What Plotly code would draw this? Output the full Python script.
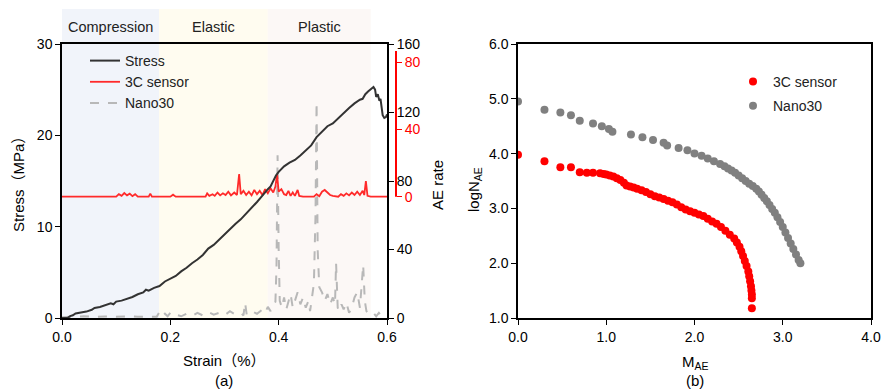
import plotly.graph_objects as go

W, H = 882, 391

# ---------------- Data: panel (a) ----------------
stress_strain = [0.000, 0.010, 0.015, 0.020, 0.025, 0.035, 0.045, 0.055, 0.060, 0.070, 0.080, 0.090, 0.095,
                 0.100, 0.110, 0.120, 0.130, 0.140, 0.150, 0.155, 0.160, 0.170, 0.180, 0.190, 0.200, 0.210,
                 0.220, 0.230, 0.240, 0.250, 0.260, 0.270, 0.280, 0.290, 0.300, 0.310, 0.320, 0.330, 0.340,
                 0.350, 0.360, 0.370, 0.375, 0.380, 0.385, 0.390, 0.395, 0.400, 0.410, 0.420, 0.430, 0.440,
                 0.450, 0.460, 0.470, 0.480, 0.490, 0.500, 0.510, 0.520, 0.530, 0.540, 0.545, 0.550, 0.555,
                 0.560, 0.565, 0.570, 0.575, 0.578, 0.580, 0.583, 0.586, 0.588, 0.590, 0.592, 0.595, 0.598, 0.600]
stress_mpa = [0.0, 0.0, 0.2, 0.3, 0.5, 0.6, 0.7, 0.9, 1.1, 1.2, 1.4, 1.6, 1.5,
              1.8, 1.9, 2.1, 2.3, 2.6, 2.8, 3.1, 3.0, 3.3, 3.5, 4.0, 4.3, 4.6,
              5.1, 5.5, 6.0, 6.4, 6.9, 7.6, 8.0, 8.6, 9.2, 9.7, 10.3, 10.8, 11.4,
              12.0, 12.7, 13.4, 13.8, 14.1, 14.4, 15.0, 15.6, 16.0, 16.6, 17.0, 17.3, 17.8,
              18.3, 18.9, 19.8, 20.4, 21.0, 21.3, 21.9, 22.5, 23.0, 23.5, 23.7, 23.9, 24.0,
              24.5, 24.8, 25.1, 25.3, 25.0, 24.2, 24.5, 23.8, 24.0, 23.3, 22.2, 21.9, 22.0, 22.3]

c3_strain = [0.000, 0.100, 0.105, 0.110, 0.115, 0.120, 0.125, 0.130, 0.135, 0.140, 0.160, 0.163, 0.166,
             0.200, 0.205, 0.210, 0.265, 0.268, 0.272, 0.278, 0.282, 0.287, 0.292, 0.297, 0.302, 0.307,
             0.312, 0.318, 0.323, 0.327, 0.330, 0.335, 0.340, 0.345, 0.350, 0.355, 0.360, 0.365, 0.370,
             0.375, 0.380, 0.385, 0.390, 0.394, 0.397, 0.400, 0.405, 0.410, 0.414, 0.418, 0.422, 0.426,
             0.430, 0.435, 0.438, 0.445, 0.465, 0.470, 0.475, 0.480, 0.485, 0.490, 0.495, 0.500, 0.510,
             0.515, 0.520, 0.525, 0.530, 0.535, 0.540, 0.545, 0.550, 0.555, 0.558, 0.561, 0.564, 0.570, 0.600]
c3_rate = [0, 0, 1.5, 0.5, 2.2, 0.8, 1.8, 0.3, 1.5, 0, 0, 1.8, 0,
           0, 1.2, 0, 0, 2.0, 0.5, 1.5, 0.5, 2.5, 0.8, 2.0, 1.0, 3.0,
           0.8, 2.5, 1.0, 13.5, 1.5, 3.5, 1.0, 3.0, 0.8, 4.0, 1.5, 3.5, 1.0,
           4.5, 2.0, 5.0, 2.5, 6.0, 13.5, 3.0, 4.5, 1.5, 1.0, 3.5, 0.5, 2.5,
           0.5, 4.0, 0.5, 0, 0, 1.5, 0.3, 3.0, 4.0, 2.5, 1.0, 0.5, 0,
           1.5, 0.5, 2.0, 0.8, 2.5, 1.0, 3.0, 1.0, 3.5, 1.0, 9.3, 0.5, 0, 0]

nano_strain = [0.000, 0.020, 0.040, 0.060, 0.080, 0.100, 0.120, 0.140, 0.160, 0.175, 0.180, 0.185, 0.190,
               0.195, 0.200, 0.205, 0.210, 0.220, 0.230, 0.240, 0.250, 0.260, 0.270, 0.280, 0.290, 0.300,
               0.310, 0.320, 0.330, 0.335, 0.338, 0.341, 0.350, 0.360, 0.370, 0.375, 0.380, 0.385, 0.390,
               0.394, 0.396, 0.398, 0.400, 0.402, 0.406, 0.410, 0.414, 0.418, 0.422, 0.426, 0.430, 0.435,
               0.440, 0.445, 0.450, 0.455, 0.458, 0.462, 0.465, 0.468, 0.470, 0.472, 0.475, 0.480, 0.485,
               0.490, 0.495, 0.500, 0.504, 0.506, 0.509, 0.512, 0.516, 0.520, 0.525, 0.530, 0.535, 0.540,
               0.545, 0.550, 0.553, 0.556, 0.559, 0.562, 0.568, 0.575, 0.580, 0.585, 0.590, 0.600]
nano_rate = [0.5, 0.8, 1.0, 0.6, 0.9, 0.7, 1.0, 0.8, 1.0, 0.8, 3.5, 1.0, 2.5,
             1.0, 3.0, 1.5, 2.0, 1.0, 2.5, 1.2, 3.0, 1.5, 3.5, 2.0, 3.0, 1.5,
             4.0, 2.0, 3.0, 1.5, 9.0, 2.0, 4.0, 2.5, 5.0, 3.0, 6.5, 4.0, 7.5,
             9.5, 30, 95, 40, 10, 6, 12, 5, 9, 14, 6, 10, 15,
             8, 12, 6, 10, 4, 14, 20, 60, 126, 40, 18, 15, 10,
             14, 8, 12, 8, 32, 6, 4, 8, 5, 9, 3, 6, 12,
             15, 6, 20, 31, 10, 4, 2, 3, 1, 3, 1, 1]

stages = ["Compression", "Elastic", "Plastic"]
stage_bounds = [(0.0, 0.179), (0.179, 0.380), (0.380, 0.570)]
stage_colors = ["#f1f4fa", "#fffcf0", "#fcf8f6"]

# ---------------- Data: panel (b) ----------------
c3_m = [0.00, 0.30, 0.48, 0.60, 0.70, 0.78, 0.85, 0.93, 0.97, 1.00, 1.04, 1.08, 1.12, 1.16, 1.20, 1.23,
        1.27, 1.31, 1.35, 1.40, 1.45, 1.50, 1.55, 1.60, 1.65, 1.70, 1.75, 1.80, 1.85, 1.90, 1.95, 2.00,
        2.05, 2.10, 2.15, 2.20, 2.25, 2.30, 2.35, 2.40, 2.45, 2.48, 2.51, 2.53, 2.55, 2.57, 2.59, 2.61,
        2.62, 2.63, 2.64, 2.645, 2.65, 2.65, 2.65]
c3_logn = [3.98, 3.86, 3.75, 3.75, 3.66, 3.65, 3.65, 3.64, 3.63, 3.62, 3.60, 3.58, 3.55, 3.52, 3.47, 3.42,
           3.40, 3.38, 3.36, 3.33, 3.30, 3.26, 3.22, 3.20, 3.17, 3.14, 3.11, 3.07, 3.02, 2.98, 2.95, 2.92,
           2.89, 2.86, 2.81, 2.76, 2.72, 2.66, 2.59, 2.52, 2.45, 2.38, 2.30, 2.22, 2.13, 2.04, 1.95, 1.85,
           1.76, 1.67, 1.58, 1.50, 1.43, 1.36, 1.18]

nano_m = [0.00, 0.30, 0.48, 0.60, 0.70, 0.85, 0.95, 1.03, 1.07, 1.28, 1.41, 1.53, 1.65, 1.69, 1.82, 1.92,
          2.00, 2.08, 2.15, 2.22, 2.29, 2.34, 2.38, 2.42, 2.46, 2.50, 2.54, 2.58, 2.62, 2.66, 2.70, 2.73,
          2.76, 2.79, 2.82, 2.85, 2.88, 2.91, 2.94, 2.97, 3.00, 3.03, 3.06, 3.09, 3.12, 3.15, 3.18, 3.20]
nano_logn = [4.95, 4.80, 4.75, 4.70, 4.60, 4.55, 4.50, 4.45, 4.40, 4.35, 4.30, 4.25, 4.20, 4.15, 4.10, 4.06,
             4.00, 3.96, 3.91, 3.86, 3.81, 3.77, 3.73, 3.69, 3.65, 3.60, 3.55, 3.50, 3.45, 3.41, 3.36, 3.31,
             3.25, 3.19, 3.13, 3.06, 2.99, 2.92, 2.84, 2.75, 2.66, 2.56, 2.46, 2.36, 2.26, 2.16, 2.06, 2.00]

# ---------------- Helpers ----------------
def px(x):
    return x / W

def py(y):
    return 1 - y / H

FONT = "Liberation Sans, Arial, Noto Sans CJK SC, sans-serif"
ydom = [py(318), py(44)]

fig = go.Figure()

# Panel (a) traces (main y = AE rate gray, drawn first/bottom)
fig.add_trace(go.Scatter(x=nano_strain, y=nano_rate, mode="lines", name="Nano30",
                         line=dict(color="#b8b8b8", width=2, dash="dash"),
                         xaxis="x", yaxis="y", legend="legend", legendrank=3))
fig.add_trace(go.Scatter(x=c3_strain, y=c3_rate, mode="lines", name="3C sensor",
                         line=dict(color="#ff2a2a", width=1.8),
                         xaxis="x", yaxis="y2", legend="legend", legendrank=2))
fig.add_trace(go.Scatter(x=stress_strain, y=stress_mpa, mode="lines", name="Stress",
                         line=dict(color="#333333", width=2),
                         xaxis="x", yaxis="y3", legend="legend", legendrank=1))

# Panel (b) traces
fig.add_trace(go.Scatter(x=c3_m, y=c3_logn, mode="markers", name="3C sensor",
                         marker=dict(color="#ff0000", size=8), legendgroup="b1",
                         xaxis="x2", yaxis="y4", legend="legend2"))
fig.add_trace(go.Scatter(x=nano_m, y=nano_logn, mode="markers", name="Nano30",
                         marker=dict(color="#808080", size=8), legendgroup="b2",
                         xaxis="x2", yaxis="y4", legend="legend2"))

tickfont = dict(family=FONT, size=14, color="#000")

shapes = []
annotations = []
for name, (a, b), col in zip(stages, stage_bounds, stage_colors):
    shapes.append(dict(type="rect", xref="x", yref="paper", x0=a, x1=b, y0=py(318), y1=py(9),
                       fillcolor=col, line=dict(width=0), layer="below"))
    annotations.append(dict(text=name, xref="x", yref="paper", x=(a + b) / 2, y=py(27),
                            showarrow=False, xanchor="center", yanchor="middle",
                            font=dict(family=FONT, size=14.5, color="#222")))

# red secondary axis line
shapes.append(dict(type="line", xref="paper", yref="y2", x0=px(396), x1=px(396), y0=0, y1=86.7,
                   line=dict(color="#ff0000", width=2)))

def title_ann(text, x, y, angle=0):
    return dict(text=text, xref="paper", yref="paper", x=px(x), y=py(y), showarrow=False,
                xanchor="center", yanchor="middle", textangle=angle,
                font=dict(family=FONT, size=15, color="#000"))

annotations += [
    title_ann("Stress（MPa）", 18, 181, -90),
    title_ann("AE rate", 437, 185, -90),
    title_ann("Strain（%）", 224, 360),
    title_ann("(a)", 224, 380),
    title_ann("logN<sub>AE</sub>", 475, 190, -90),
    title_ann("M<sub>AE</sub>", 695, 362),
    title_ann("(b)", 695, 380),
]

common = dict(showgrid=False, zeroline=False, automargin=False, tickfont=tickfont,
              ticks="outside", ticklen=5, tickcolor="#000")

fig.update_layout(
    width=W, height=H, margin=dict(l=0, r=0, t=0, b=0, autoexpand=False),
    paper_bgcolor="white", plot_bgcolor="rgba(0,0,0,0)",
    font=dict(family=FONT, size=14, color="#000"),
    xaxis=dict(domain=[px(62), px(387)], range=[0, 0.6], tickvals=[0, 0.2, 0.4, 0.6],
               tickformat=".1f", anchor="y", showline=True, linecolor="#000", linewidth=1.5,
               mirror=True, **common),
    yaxis=dict(domain=ydom, range=[0, 160], tickvals=[0, 40, 80, 120, 160], side="right",
               anchor="x", showline=True, linecolor="#000", linewidth=2, **common),
    yaxis2=dict(overlaying="y", anchor="free", position=px(396), side="right",
                range=[-72.2, 90.9], tickvals=[0, 40, 80], showline=False, ticks="outside",
                ticklen=5, tickcolor="#ff0000", showgrid=False, zeroline=False, automargin=False,
                tickfont=dict(family=FONT, size=14, color="#ff0000")),
    yaxis3=dict(overlaying="y", anchor="x", side="left", range=[0, 30], tickvals=[0, 10, 20, 30],
                showline=True, linecolor="#000", linewidth=1.5, **common),
    xaxis2=dict(domain=[px(518), px(871)], range=[0, 4], tickvals=[0, 1, 2, 3, 4], tickformat=".1f",
                anchor="y4", showline=True, linecolor="#000", linewidth=1.5, mirror=True, **common),
    yaxis4=dict(domain=ydom, range=[1, 6], tickvals=[1, 2, 3, 4, 5, 6], tickformat=".1f",
                anchor="x2", showline=True, linecolor="#000", linewidth=1.5, mirror=True, **common),
    legend=dict(x=px(85), y=py(45), xanchor="left", yanchor="top", bgcolor="rgba(0,0,0,0)",
                font=dict(family=FONT, size=14, color="#222"), tracegroupgap=0),
    legend2=dict(x=px(733), y=py(66), xanchor="left", yanchor="top", bgcolor="rgba(0,0,0,0)",
                 font=dict(family=FONT, size=14, color="#222"), tracegroupgap=3),
    shapes=shapes, annotations=annotations, showlegend=True,
)

fig.write_html("out.html")
